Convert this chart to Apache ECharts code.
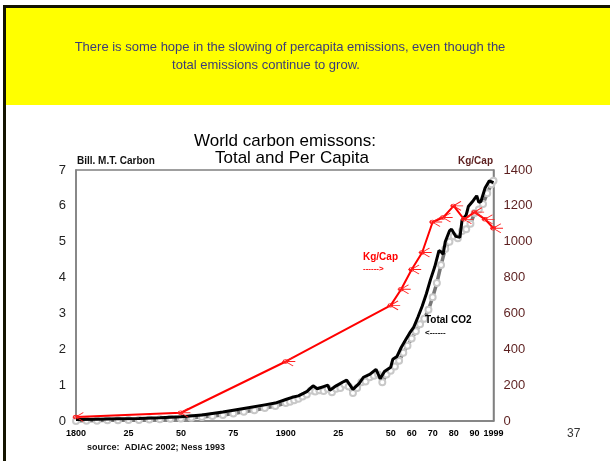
<!DOCTYPE html>
<html>
<head>
<meta charset="utf-8">
<script src="https://cdn.jsdelivr.net/npm/echarts@6/dist/echarts.min.js"></script>
<style>
  html, body { margin: 0; padding: 0; background: #fff; }
  #chart { width: 610px; height: 461px; }
</style>
</head>
<body>
<div id="chart"></div>
<script>
// Total carbon emissions, billion metric tonnes of carbon (main record)
const totalYears = [1800,1810,1820,1830,1840,1850,1860,1870,1880,1890,1895,1900,1903,1906,1910,1913,1915,1918,1920,1921,1924,1927,1929,1932,1935,1937,1940,1943,1945,1947,1950,1951,1953,1955,1957,1959,1961,1963,1965,1967,1969,1971,1973,1974,1975,1976,1978,1979,1980,1981,1983,1984,1986,1987,1989,1990,1991,1992,1993,1995,1997,1999];
const totalValues = [0.04,0.05,0.06,0.07,0.09,0.12,0.17,0.25,0.35,0.45,0.50,0.60,0.66,0.70,0.82,0.98,0.90,0.96,1.00,0.86,0.98,1.08,1.14,0.88,1.05,1.22,1.30,1.44,1.18,1.38,1.50,1.72,1.80,2.05,2.25,2.45,2.62,2.90,3.20,3.55,3.95,4.30,4.75,4.72,4.65,5.00,5.30,5.35,5.25,5.15,5.12,5.60,5.75,5.98,6.12,6.20,6.28,6.10,6.12,6.50,6.70,6.65];

// Total carbon emissions, second (annual) record
const altYears = [1800,1805,1810,1815,1820,1825,1830,1835,1840,1845,1850,1855,1860,1865,1870,1875,1880,1885,1890,1895,1900,1902,1904,1906,1908,1910,1912,1914,1916,1918,1920,1922,1924,1926,1928,1930,1932,1934,1936,1938,1940,1942,1944,1946,1948,1950,1952,1954,1956,1958,1960,1962,1964,1966,1968,1970,1972,1974,1976,1978,1980,1982,1984,1986,1988,1990,1992,1994,1996,1998,1999];
const altValues = [0.00,0.01,0.01,0.02,0.02,0.03,0.03,0.04,0.05,0.06,0.07,0.09,0.11,0.14,0.17,0.21,0.26,0.30,0.36,0.42,0.50,0.54,0.58,0.62,0.68,0.74,0.85,0.82,0.86,0.84,0.90,0.80,0.90,0.92,1.02,0.96,0.78,0.92,1.08,1.10,1.22,1.26,1.30,1.08,1.30,1.40,1.52,1.68,1.90,2.10,2.30,2.50,2.70,2.85,3.10,3.45,3.85,4.35,4.80,5.00,5.15,5.10,5.30,5.35,5.50,5.80,5.90,6.05,6.35,6.60,6.70];

// Per capita emissions, kg of carbon per person
const perCapYears = [1800,1850,1900,1950,1955,1960,1965,1970,1975,1980,1985,1990,1995,1999];
const perCapValues = [22,46,332,645,735,845,940,1110,1135,1200,1125,1165,1125,1075];

// Year axis labels
const xTickValues = [1800,1825,1850,1875,1900,1925,1950,1960,1970,1980,1990,1999];
const xTickLabels = ['1800','25','50','75','1900','25','50','60','70','80','90','1999'];

const FONT = '"Liberation Sans", Arial, Helvetica, sans-serif';
const pair = (xs, ys) => xs.map((x, i) => [x, ys[i]]);

const chart = echarts.init(document.getElementById('chart'), null, { renderer: 'canvas' });

const starSymbol = 'path://M0,5 L12,5 M3,5 L10,0 M3,5 L10,10 M3,3 A2,2 0 1 0 3,7 A2,2 0 1 0 3,3';

chart.setOption({
  backgroundColor: '#ffffff',
  animation: false,
  grid: {
    left: 76, top: 170, width: 417.5, height: 251,
    show: true, borderColor: '#808080', borderWidth: 1.5, backgroundColor: 'transparent'
  },
  xAxis: {
    type: 'value', min: 1800, max: 1999,
    axisLine: { show: true, lineStyle: { color: '#808080', width: 1.5 } },
    axisTick: { show: false },
    splitLine: { show: false },
    axisLabel: {
      customValues: xTickValues,
      formatter: v => xTickLabels[xTickValues.indexOf(v)] ?? '',
      fontFamily: FONT, fontSize: 9, fontWeight: 'bold', color: '#000', margin: 8,
      hideOverlap: false
    }
  },
  yAxis: [
    {
      type: 'value', min: 0, max: 7, interval: 1, position: 'left',
      axisLine: { show: true, lineStyle: { color: '#808080', width: 1.5 } },
      axisTick: { show: false }, splitLine: { show: false },
      axisLabel: { fontFamily: FONT, fontSize: 13, color: '#222', margin: 10 }
    },
    {
      type: 'value', min: 0, max: 1400, interval: 200, position: 'right',
      axisLine: { show: true, lineStyle: { color: '#808080', width: 1.5 } },
      axisTick: { show: false }, splitLine: { show: false },
      axisLabel: { fontFamily: FONT, fontSize: 13, color: '#5c1f1f', margin: 10, formatter: v => String(v) }
    }
  ],
  series: [
    {
      name: 'Total (annual record)', type: 'line', yAxisIndex: 0, z: 2,
      data: pair(altYears, altValues),
      symbol: 'emptyCircle', symbolSize: 6, showSymbol: true, showAllSymbol: true,
      lineStyle: { color: '#777', width: 3.5 },
      itemStyle: { color: '#c8c8c8', borderColor: '#444', borderWidth: 1 }
    },
    {
      name: 'Total CO2', type: 'line', yAxisIndex: 0, z: 3,
      data: pair(totalYears, totalValues),
      symbol: 'none',
      lineStyle: { color: '#000000', width: 3 }
    },
    {
      name: 'Kg/Cap', type: 'line', yAxisIndex: 1, z: 4,
      data: pair(perCapYears, perCapValues),
      symbol: starSymbol, symbolSize: [13, 9], symbolOffset: [3, 0],
      lineStyle: { color: '#ff0000', width: 2 },
      itemStyle: { color: 'rgba(0,0,0,0)', borderColor: '#ff2020', borderWidth: 1 }
    }
  ],
  graphic: [
    // slide banner and frame
    { type: 'rect', z: 0, shape: { x: 6, y: 8, width: 604, height: 97 }, style: { fill: '#ffff00' } },
    { type: 'line', z: 1, shape: { x1: 3, y1: 6.5, x2: 610, y2: 6.5 }, style: { stroke: '#141400', lineWidth: 3 } },
    { type: 'line', z: 1, shape: { x1: 4.5, y1: 5, x2: 4.5, y2: 461 }, style: { stroke: '#141400', lineWidth: 3 } },
    { type: 'text', z: 2, x: 290, y: 47, style: { text: 'There is some hope in the slowing of percapita emissions, even though the', font: '13px ' + FONT, fill: '#3c3c78', textAlign: 'center', textVerticalAlign: 'middle' } },
    { type: 'text', z: 2, x: 266, y: 65, style: { text: 'total emissions continue to grow.', font: '13px ' + FONT, fill: '#3c3c78', textAlign: 'center', textVerticalAlign: 'middle' } },
    // chart title
    { type: 'text', z: 2, x: 285, y: 141, style: { text: 'World carbon emissons:', font: '17px ' + FONT, fill: '#000', textAlign: 'center', textVerticalAlign: 'middle' } },
    { type: 'text', z: 2, x: 292, y: 158, style: { text: 'Total and Per Capita', font: '17px ' + FONT, fill: '#000', textAlign: 'center', textVerticalAlign: 'middle' } },
    // axis unit labels
    { type: 'text', z: 2, x: 77, y: 161, style: { text: 'Bill. M.T. Carbon', font: 'bold 10px ' + FONT, fill: '#111', textAlign: 'left', textVerticalAlign: 'middle' } },
    { type: 'text', z: 2, x: 493, y: 161, style: { text: 'Kg/Cap', font: 'bold 10px ' + FONT, fill: '#5c1f1f', textAlign: 'right', textVerticalAlign: 'middle' } },
    // series annotations
    { type: 'text', z: 5, x: 363, y: 257, style: { text: 'Kg/Cap', font: 'bold 10px ' + FONT, fill: '#ff0000', textAlign: 'left', textVerticalAlign: 'middle' } },
    { type: 'text', z: 5, x: 363, y: 269, style: { text: '------>', font: 'bold 8px ' + FONT, fill: '#ff0000', textAlign: 'left', textVerticalAlign: 'middle' } },
    { type: 'text', z: 5, x: 425, y: 320, style: { text: 'Total CO2', font: 'bold 10px ' + FONT, fill: '#000', textAlign: 'left', textVerticalAlign: 'middle' } },
    { type: 'text', z: 5, x: 425, y: 333, style: { text: '<------', font: 'bold 8px ' + FONT, fill: '#000', textAlign: 'left', textVerticalAlign: 'middle' } },
    // source and page number
    { type: 'text', z: 2, x: 87, y: 448, style: { text: 'source:  ADIAC 2002; Ness 1993', font: 'bold 9px ' + FONT, fill: '#111', textAlign: 'left', textVerticalAlign: 'middle' } },
    { type: 'text', z: 2, x: 567, y: 434, style: { text: '37', font: '12px ' + FONT, fill: '#333', textAlign: 'left', textVerticalAlign: 'middle' } }
  ]
});
</script>
</body>
</html>
